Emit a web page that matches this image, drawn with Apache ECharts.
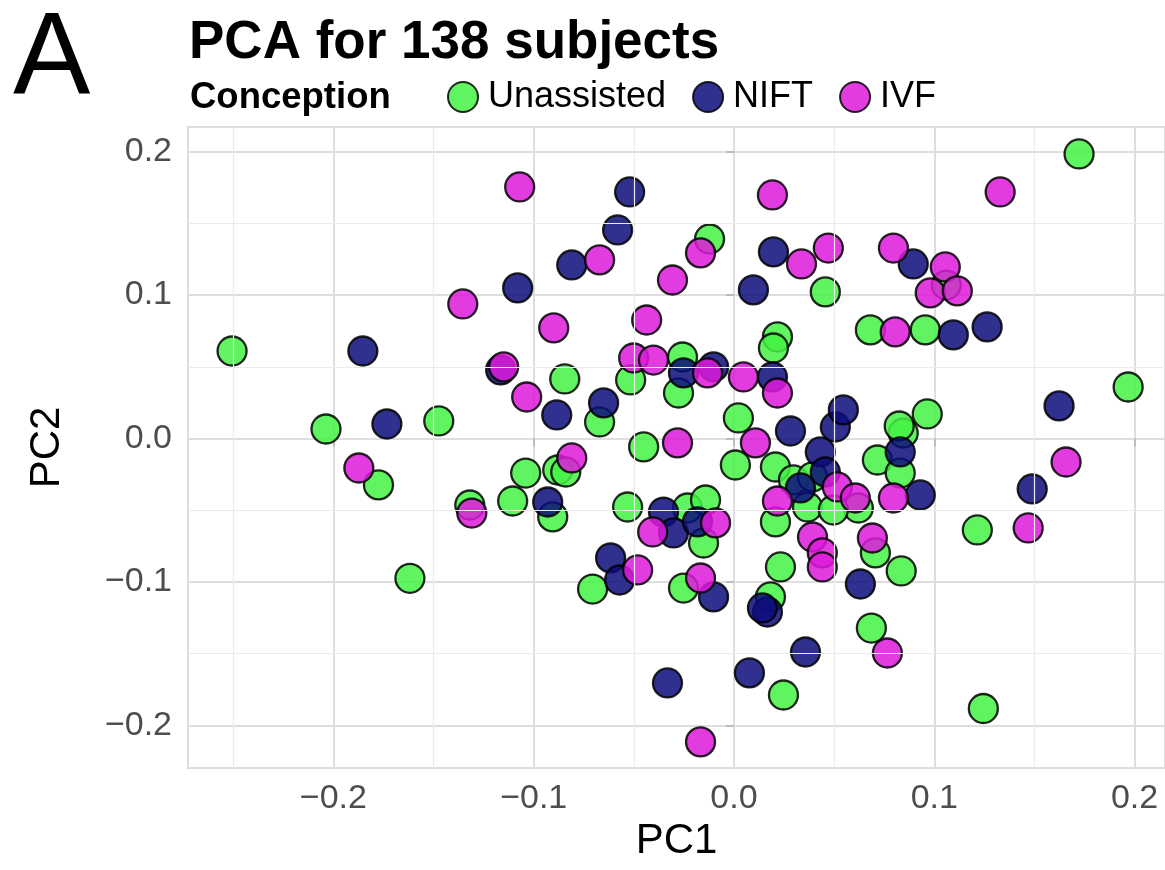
<!DOCTYPE html>
<html><head><meta charset="utf-8">
<script src="https://cdn.jsdelivr.net/npm/echarts@6/dist/echarts.min.js"></script>
<style>html,body{margin:0;padding:0;background:#fff}#c{width:1165px;height:870px}</style>
</head><body><div id="c"></div>
<script>
// ---- data (PC1, PC2) ----
const groupNames = ['Unassisted', 'NIFT', 'IVF'];
const unassisted = [
  [-0.2506, 0.0610], [-0.2037, 0.0066], [-0.1474, 0.0122], [-0.1775, -0.0324], [-0.1618, -0.0975],
  [-0.0845, 0.0415], [-0.0122, 0.1391], [-0.0516, 0.0408], [-0.0257, 0.0568], [-0.0277, 0.0317],
  [-0.0671, 0.0115], [-0.0880, -0.0220], [-0.0840, -0.0234], [-0.1040, -0.0241], [-0.1105, -0.0436],
  [-0.0905, -0.0547], [-0.1319, -0.0464], [-0.0451, -0.0059], [-0.0531, -0.0478], [-0.0232, -0.0485],
  [-0.0142, -0.0429], [-0.0152, -0.0729], [-0.0706, -0.1050], [-0.0252, -0.1043], [0.0247, -0.1789],
  [0.0182, -0.1105], [0.0232, -0.0896], [0.0686, -0.1322], [0.0835, -0.0924], [0.0706, -0.0798],
  [0.0207, -0.0582], [0.0207, -0.0199], [0.0007, -0.0185], [0.0022, 0.0143], [0.0297, -0.0289],
  [0.0392, -0.0268], [0.0621, -0.0485], [0.0367, -0.0478], [0.0496, -0.0499], [0.0716, -0.0150],
  [0.0830, -0.0241], [0.0845, 0.0038], [0.0825, 0.0087], [0.0965, 0.0171], [0.1215, -0.0638],
  [0.1968, 0.0359], [0.1245, -0.1883], [0.1723, 0.1984], [0.0456, 0.1022], [0.1060, 0.1070],
  [0.0681, 0.0757], [0.0955, 0.0757], [0.0217, 0.0708], [0.0197, 0.0631]
];
const nift = [
  [-0.1853, 0.0610], [-0.1733, 0.0101], [-0.1080, 0.1050], [-0.1165, 0.0478], [-0.0885, 0.0164],
  [-0.0810, 0.1210], [-0.0581, 0.1454], [-0.0521, 0.1719], [-0.0252, 0.0457], [-0.0102, 0.0499],
  [-0.0651, 0.0248], [-0.0930, -0.0443], [-0.0352, -0.0513], [-0.0302, -0.0659], [-0.0182, -0.0582],
  [-0.0616, -0.0833], [-0.0571, -0.0987], [-0.0102, -0.1105], [-0.0332, -0.1705], [0.0077, -0.1635],
  [0.0167, -0.1210], [0.0142, -0.1182], [0.0357, -0.1489], [0.0631, -0.1015], [0.0282, 0.0052],
  [0.0431, -0.0094], [0.0506, 0.0080], [0.0546, 0.0199], [0.0332, -0.0345], [0.0456, -0.0234],
  [0.0830, -0.0094], [0.0930, -0.0394], [0.1489, -0.0352], [0.1623, 0.0227], [0.0197, 0.1301],
  [0.0097, 0.1036], [0.0895, 0.1217], [0.1095, 0.0722], [0.1264, 0.0778], [0.0192, 0.0429]
];
const ivf = [
  [-0.1873, -0.0206], [-0.1354, 0.0938], [-0.1070, 0.1754], [-0.1150, 0.0499], [-0.1035, 0.0289],
  [-0.0900, 0.0771], [-0.0671, 0.1245], [-0.0436, 0.0826], [-0.0307, 0.1105], [-0.0167, 0.1294],
  [-0.0501, 0.0561], [-0.0402, 0.0547], [-0.0132, 0.0457], [-0.0810, -0.0136], [-0.1309, -0.0520],
  [-0.0282, -0.0031], [-0.0406, -0.0652], [-0.0092, -0.0589], [-0.0481, -0.0917], [-0.0167, -0.0973],
  [-0.0167, -0.2116], [0.0766, -0.1496], [0.0691, -0.0694], [0.0392, -0.0687], [0.0441, -0.0798],
  [0.0441, -0.0896], [0.0217, -0.0436], [0.0107, -0.0031], [0.0516, -0.0338], [0.0606, -0.0415],
  [0.0796, -0.0415], [0.1469, -0.0624], [0.1658, -0.0164], [0.1329, 0.1719], [0.0192, 0.1698],
  [0.0337, 0.1217], [0.0471, 0.1328], [0.0796, 0.1328], [0.1055, 0.1196], [0.0980, 0.1015],
  [0.1115, 0.1029], [0.0805, 0.0743], [0.0047, 0.0429], [0.0217, 0.0317]
];
const groupData = [unassisted, nift, ivf];
const groupColors = ['#44f244', '#0c0c7a', '#dd1adb'];
// axis ranges and gridlines
const xRange = [-0.2726, 0.2152];
const yRange = [-0.2298, 0.2172];
const xMinor = [-0.25, -0.15, -0.05, 0.05, 0.15];
const yMinor = [-0.15, -0.05, 0.05, 0.15];

const FONT = '"Liberation Sans", Arial, Helvetica, sans-serif';
const fmt = v => (v < 0 ? '\u2212' : '') + Math.abs(v).toFixed(1);

const chart = echarts.init(document.getElementById('c'), null, {renderer: 'canvas'});

const series = groupNames.map((name, i) => ({
  name: name,
  type: 'scatter',
  data: groupData[i],
  symbol: 'circle',
  symbolSize: 29,
  z: 3,
  itemStyle: {color: groupColors[i], borderColor: '#000', borderWidth: 2.3, opacity: 0.85},
  emphasis: {disabled: true}
}));
series.unshift({
  type: 'scatter', data: [], z: 1, silent: true,
  markLine: {
    silent: true, symbol: ['none', 'none'], label: {show: false}, animation: false,
    lineStyle: {color: '#ebebeb', width: 1.2, type: 'solid'},
    emphasis: {disabled: true},
    data: xMinor.map(v => ({xAxis: v})).concat(yMinor.map(v => ({yAxis: v})))
  }
});

chart.setOption({
  animation: false,
  backgroundColor: '#fff',
  textStyle: {fontFamily: FONT},
  title: [
    {text: 'A', left: 8, top: -1, textStyle: {fontFamily: FONT, fontSize: 116, fontWeight: 'normal', color: '#000'}},
    {text: 'PCA for 138 subjects', left: 184, top: 12, textStyle: {fontFamily: FONT, fontSize: 53, fontWeight: 'bold', color: '#000'}},
    {text: 'Conception', left: 185, top: 74, textStyle: {fontFamily: FONT, fontSize: 36.5, fontWeight: 'bold', color: '#000'}}
  ],
  legend: {
    data: groupNames,
    left: 442, top: 74,
    itemWidth: 30, itemHeight: 30, itemGap: 26,
    icon: 'circle',
    selectedMode: false,
    textStyle: {fontFamily: FONT, fontSize: 36, color: '#000', padding: [0, 0, 0, 5]}
  },
  grid: {left: 188, right: 0, top: 127, bottom: 102, show: true, borderColor: '#b3b3b3', borderWidth: 1.5, containLabel: false},
  xAxis: {
    type: 'value', min: xRange[0], max: xRange[1], splitNumber: 5,
    name: 'PC1', nameLocation: 'middle', nameGap: 46,
    nameTextStyle: {fontFamily: FONT, fontSize: 42, color: '#000'},
    axisLine: {show: false},
    axisTick: {show: true, length: 8, lineStyle: {color: '#b3b3b3', width: 1.5}},
    axisLabel: {fontFamily: FONT, fontSize: 34, color: '#4d4d4d', margin: 14, showMinLabel: false, showMaxLabel: false, formatter: fmt},
    splitLine: {show: true, lineStyle: {color: '#dedede', width: 2}}
  },
  yAxis: {
    type: 'value', min: yRange[0], max: yRange[1], splitNumber: 5,
    name: 'PC2', nameLocation: 'middle', nameGap: 120, nameRotate: 90,
    nameTextStyle: {fontFamily: FONT, fontSize: 42, color: '#000'},
    axisLine: {show: false},
    axisTick: {show: true, length: 8, lineStyle: {color: '#b3b3b3', width: 1.5}},
    axisLabel: {fontFamily: FONT, fontSize: 34, color: '#4d4d4d', margin: 16, showMinLabel: false, showMaxLabel: false, formatter: fmt},
    splitLine: {show: true, lineStyle: {color: '#dedede', width: 2}}
  },
  series: series
});
</script>
</body></html>
